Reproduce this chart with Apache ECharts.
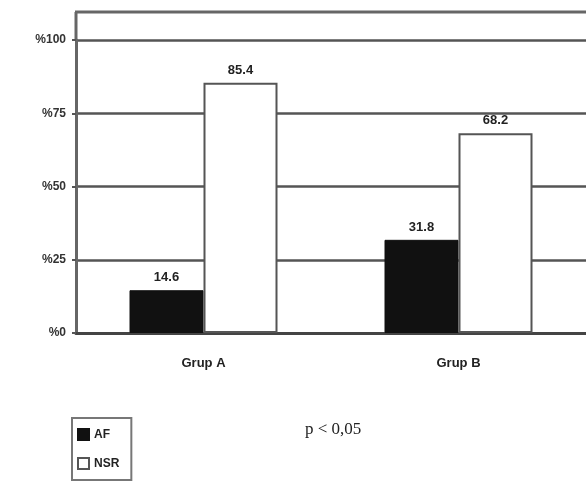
<!DOCTYPE html>
<html><head><meta charset="utf-8">
<script src="https://cdn.jsdelivr.net/npm/echarts@6/dist/echarts.min.js"></script>
<style>html,body{margin:0;padding:0;background:#fff}#c{width:586px;height:484px}</style>
</head><body><div id="c"></div>
<script>
var categories = ['Grup A', 'Grup B'];
var afValues = [14.6, 31.8];
var nsrValues = [85.4, 68.2];
var yTicks = [0, 25, 50, 75, 100];

var chart = echarts.init(document.getElementById('c'));
var labelStyle = {show: true, position: 'top', distance: 6, fontFamily: 'Liberation Sans, Arial', fontWeight: 'bold', fontSize: 13, color: '#222', formatter: function(p){return p.value.toFixed(1);}};
chart.setOption({
  animation: false,
  backgroundColor: '#fff',
  grid: {left: 76, right: -8, top: 40, bottom: 151},
  xAxis: {
    type: 'category', data: categories,
    axisLine: {lineStyle: {color: '#444', width: 3}},
    axisTick: {show: false},
    axisLabel: {margin: 24, fontFamily: 'Liberation Sans, Arial', fontWeight: 'bold', fontSize: 13, color: '#222'}
  },
  yAxis: {
    type: 'value', min: 0, max: 100, interval: 25,
    axisLine: {show: true, lineStyle: {color: '#666', width: 3}},
    axisTick: {show: true, length: 4, lineStyle: {color: '#555', width: 2}},
    splitLine: {lineStyle: {color: '#555', width: 2.5}},
    axisLabel: {margin: 10, fontFamily: 'Liberation Sans, Arial', fontWeight: 'bold', fontSize: 12, color: '#333',
      formatter: function(v){return yTicks.indexOf(v) >= 0 ? '%' + v : '';}}
  },
  legend: {
    orient: 'vertical', left: 72, top: 418, padding: [10, 12, 10, 5], itemGap: 16,
    borderColor: '#777', borderWidth: 2, itemWidth: 11, itemHeight: 11, icon: 'rect',
    textStyle: {fontFamily: 'Liberation Sans, Arial', fontWeight: 'bold', fontSize: 12, color: '#222'},
    data: ['AF', 'NSR']
  },
  graphic: [
    {type: 'line', shape: {x1: 75, y1: 12, x2: 586, y2: 12}, style: {stroke: '#666', lineWidth: 3}},
    {type: 'line', shape: {x1: 76, y1: 12, x2: 76, y2: 40}, style: {stroke: '#666', lineWidth: 3}},
    {type: 'text', left: 305, top: 421, style: {text: 'p < 0,05', font: '17px "Liberation Serif", serif', fill: '#222'}}
  ],
  series: [
    {name: 'AF', type: 'bar', data: afValues, barWidth: 74, barGap: '0%',
      itemStyle: {color: '#111', borderColor: '#111', borderWidth: 1}, label: labelStyle},
    {name: 'NSR', type: 'bar', data: nsrValues, barWidth: 74,
      itemStyle: {color: '#fff', borderColor: '#555', borderWidth: 2}, label: labelStyle}
  ]
});
</script></body></html>
